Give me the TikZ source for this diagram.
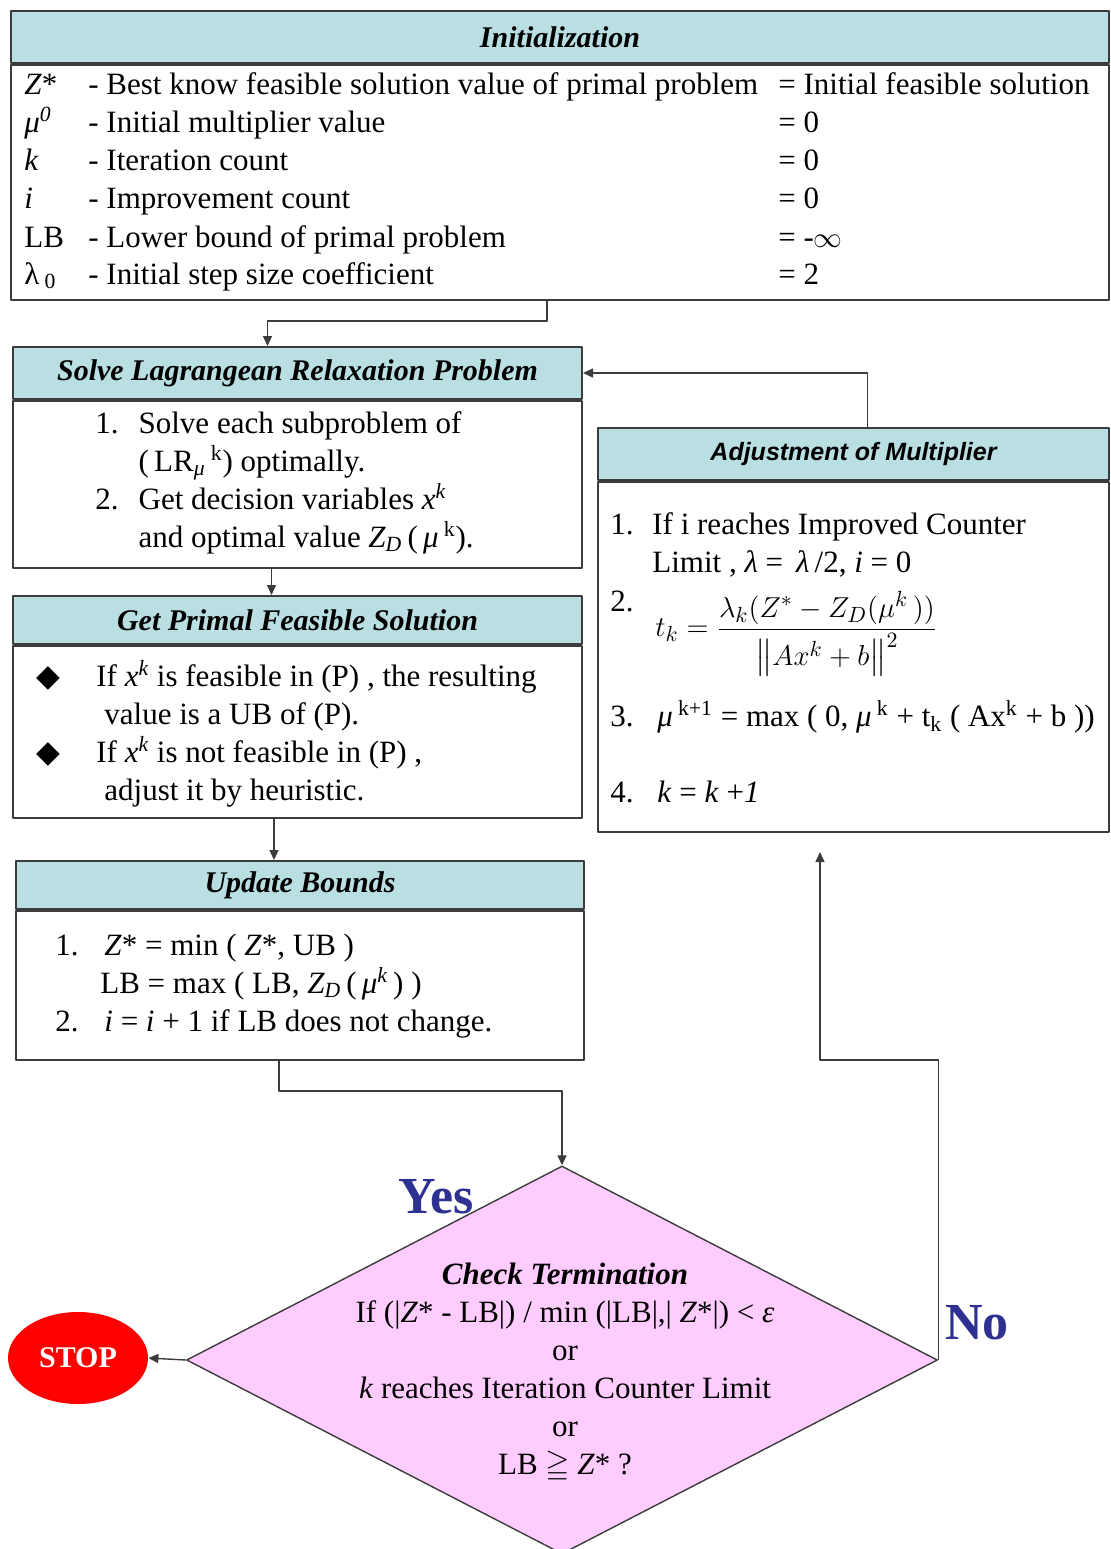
\documentclass[tikz,border=0pt]{standalone}
\usepackage{amsmath}
\usepackage{amssymb}
\usepackage{fontspec}
\setmainfont{Liberation Serif}
\newfontfamily\headsans{Liberation Sans}
\newfontfamily\symfont{DejaVu Sans}
\usetikzlibrary{arrows.meta,calc,positioning,shapes.geometric}

\definecolor{hdrblue}{RGB}{185,223,226}
\definecolor{chkpink}{RGB}{255,204,255}
\definecolor{stopred}{RGB}{255,0,0}
\definecolor{yesno}{RGB}{46,49,146}
\definecolor{edge}{RGB}{60,60,60}

\tikzset{
    hdr/.style={draw=edge, line width=1pt, fill=hdrblue, anchor=north west, inner sep=0pt,
        font=\bfseries\itshape\fontsize{15}{19}\selectfont},
    bodybox/.style={draw=edge, line width=1pt, anchor=north west, inner sep=0pt},
    txt/.style={anchor=base west, inner sep=0pt},
    arr/.style={draw=edge, line width=0.7pt, -{Triangle[length=5pt,width=4.5pt]}},
    lbl/.style={text=yesno, font=\bfseries\fontsize{26}{30}\selectfont}
}

\begin{document}
\begin{tikzpicture}[x=0.5pt, y=-0.5pt, font=\fontsize{15.5}{19}\selectfont, line join=round]
    \useasboundingbox (0,0) rectangle (1110,1549);

    % initialization
    \node[hdr, minimum width=549pt, minimum height=26pt] (inithdr) at (10,10) {Initialization};
    \node[bodybox, minimum width=549pt, minimum height=117.5pt] (initbody) at (inithdr.south west) {};
    \foreach \y/\sym/\desc/\val [count=\i] in {
        94/{\textit{Z}*}/{- Best know feasible solution value of primal problem}/{= Initial feasible solution},
        132/{\textit{μ\textsuperscript{0}}}/{- Initial multiplier value}/{= 0},
        170/{\textit{k}}/{- Iteration count}/{= 0},
        208/{\textit{i}}/{- Improvement count}/{= 0},
        247/{LB}/{- Lower bound of primal problem}/{= -$\infty$},
        284/{λ\,\textsubscript{0}}/{- Initial step size coefficient}/{= 2}}
    {
        \node[txt] (sym\i) at (24,\y) {\sym};
        \node[txt] (desc\i) at (88,\y) {\desc};
        \node[txt] (val\i) at (778,\y) {\val};
    }

    % Lagrangean relaxation
    \node[hdr, minimum width=284.5pt, minimum height=26pt] (lrhdr) at (12,346) {Solve Lagrangean Relaxation Problem};
    \node[bodybox, minimum width=284.5pt, minimum height=83.5pt] (lrbody) at (lrhdr.south west) {};
    \node[txt] (lrtxt) at (95,433) {\begin{tabular}[t]{@{}l@{\hspace{10pt}}l@{}}
        1. & Solve each subproblem of\\
           & (\,LR\textsubscript{\textit{μ}}\,\textsuperscript{k}) optimally.\\
        2. & Get decision variables \textit{x\textsuperscript{k}}\\
           & and optimal value \textit{Z\textsubscript{D}}\,(\,\textit{μ}\,\textsuperscript{k}).
    \end{tabular}};

    % primal feasible solution
    \node[hdr, minimum width=284.5pt, minimum height=24pt] (pfhdr) at (12,595) {Get Primal Feasible Solution};
    \node[bodybox, minimum width=284.5pt, minimum height=86pt] (pfbody) at (pfhdr.south west) {};
    \node[txt] (pftxt) at (36,686) {\begin{tabular}[t]{@{}l@{}l@{}}
        \makebox[30pt][l]{\symfont ◆} & If \textit{x\textsuperscript{k}} is feasible in (P) , the resulting\\
           & \hspace{4pt}value is a UB of (P).\\
        \makebox[30pt][l]{\symfont ◆} & If \textit{x\textsuperscript{k}} is not feasible in (P) ,\\
           & \hspace{4pt}adjust it by heuristic.
    \end{tabular}};

    % update bounds
    \node[hdr, minimum width=284pt, minimum height=24pt] (ubhdr) at (15,860) {Update Bounds};
    \node[bodybox, minimum width=284pt, minimum height=74.5pt] (ubbody) at (ubhdr.south west) {};
    \node[txt] (ubtxt) at (55,955) {\begin{tabular}[t]{@{}l@{}l@{}}
        \makebox[24.5pt][l]{1.} & \textit{Z}* = min ( \textit{Z}*, UB )\\
           & \hspace{-2pt}LB = max ( LB, \textit{Z\textsubscript{D}}\,(\,\textit{μ\textsuperscript{k}}\,) )\\
        \makebox[24.5pt][l]{2.} & \textit{i} = \textit{i} + 1 if LB does not change.
    \end{tabular}};

    % adjustment of multiplier
    \node[hdr, minimum width=255.5pt, minimum height=26pt, font=\headsans\bfseries\itshape\fontsize{12.5}{15}\selectfont]
        (adjhdr) at (597,427) {Adjustment of Multiplier};
    \node[bodybox, minimum width=255.5pt, minimum height=175pt] (adjbody) at (adjhdr.south west) {};
    \foreach \n/\y in {1/534, 2/611, 3/726, 4/802}
        \node[txt] (adjnum\n) at (610,\y) {\n.};
    \node[txt] (adjt1) at (652,534) {If i reaches Improved Counter};
    \node[txt] (adjt1b) at (652,572) {Limit , \textit{λ} = \,\textit{λ}\,/2, \textit{i} = 0};
    \node[anchor=west, inner sep=0pt] (adjt2) at (655,634)
        {$t_k = \dfrac{\lambda_k(Z^* - Z_D(\mu^k\,))}{\left\|Ax^k + b\right\|^2}$};
    \node[txt] (adjt3) at (657,726)
        {\textit{μ}\,\textsuperscript{k+1} = max ( 0,\ \textit{μ}\,\textsuperscript{k} + t\textsubscript{k} ( Ax\textsuperscript{k} + b ))};
    \node[txt] (adjt4) at (657,802) {\textit{k} = \textit{k} +\textit{1}};

    % termination check
    \node[diamond, draw=edge, line width=0.7pt, fill=chkpink, inner sep=0pt,
        minimum width=375.5pt, minimum height=194pt] (chk) at (562,1360) {};
    \node[align=center, inner sep=0pt] (chktxt) at (565,1373) {%
        \textbf{\textit{Check Termination}}\\
        If (|\textit{Z}* - LB|) / min (|LB|,| \textit{Z}*|) < \textit{ε}\\
        or\\
        \textit{k} reaches Iteration Counter Limit\\
        or\\
        LB $\geqq$ \textit{Z}* ?};

    \node[ellipse, fill=stopred, text=white, inner sep=0pt, minimum width=70pt, minimum height=46pt,
        font=\bfseries\fontsize{15}{18}\selectfont] (stop) at (78,1358) {STOP};

    \node[lbl] (yes) at (436,1197) {Yes};
    \node[lbl] (no) at (977,1323) {No};

    \coordinate (noarr) at (820,852);

    % connectors
    \draw[arr] ([xshift=-6.5pt]initbody.south) -- ++(0,20) -| ([xshift=-15pt]lrhdr.north);
    \draw[arr] ([xshift=-13pt]lrbody.south) -- ([xshift=-13pt]lrbody.south |- pfhdr.north);
    \draw[arr] ([xshift=-11.75pt]pfbody.south) -- ([xshift=-11.75pt]pfbody.south |- ubhdr.north);
    \draw[arr] ([xshift=-10.5pt]ubbody.south) -- ++(0,30) -| (chk.north);
    \draw[arr] (chk.west) -- (stop.east);
    \draw[arr] (chk.east) -- ++(0,-300) -| (noarr);
    \draw[arr] ([xshift=7pt]adjhdr.north) |- (lrhdr.east);
\end{tikzpicture}
\end{document}
